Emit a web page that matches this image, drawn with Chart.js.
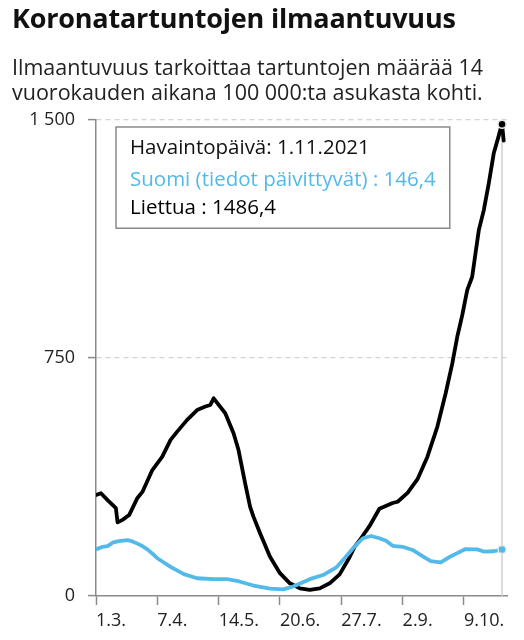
<!DOCTYPE html>
<html>
<head>
<meta charset="utf-8">
<script src="https://cdn.jsdelivr.net/npm/chart.js@4"></script>
<style>
  html, body { margin: 0; padding: 0; background: #fff; }
  #wrap { position: relative; width: 524px; height: 640px; overflow: hidden; }
  #chart { position: absolute; left: 0; top: 0; }
  .title {
    position: absolute; left: 12px; top: 0px;
    font-family: "Open Sans", sans-serif; font-weight: 700; font-size: 27px;
    line-height: 36px; color: #111; letter-spacing: -0.2px;
  }
  .sub {
    position: absolute; left: 12px; top: 54px; width: 512px;
    font-family: "Open Sans", sans-serif; font-size: 21.5px;
    line-height: 25px; color: #222;
  }
</style>
</head>
<body>
<div id="wrap">
  <canvas id="chart" width="524" height="640"></canvas>
  <div class="title">Koronatartuntojen ilmaantuvuus</div>
  <div class="sub">Ilmaantuvuus tarkoittaa tartuntojen määrää 14<br>vuorokauden aikana 100 000:ta asukasta kohti.</div>
</div>
<script>
// päivät laskettu 1.3.2021 alkaen
const xTicks = [0, 37, 74, 111, 148, 185, 222];
const xTickLabels = ["1.3.", "7.4.", "14.5.", "20.6.", "27.7.", "2.9.", "9.10."];
const yTicks = [0, 750, 1500];
const yTickLabels = ["0", "750", "1 500"];

const lastDate = "1.11.2021";
const lastDay = 245;

const finlandLabel = "Suomi (tiedot päivittyvät)";
const finlandDays = [0, 4, 7, 10, 13, 15, 19, 22, 25, 27, 31, 35, 37, 45, 53, 61, 71, 79, 85, 87,
  95, 105, 113, 119, 129, 137, 145, 149, 155, 161, 166, 171, 175, 179, 185, 191, 197, 202, 208,
  213, 218, 223, 230, 234, 240, 245];
const finlandValues = [147, 155, 157, 168, 172, 174, 176, 172, 165, 160, 147, 129, 119, 92, 69, 56, 53, 53, 48, 45,
  33, 23, 21, 30, 53, 66, 90, 113, 150, 182, 189, 182, 174, 158, 155, 145, 126, 110, 106,
  122, 135, 148, 147, 140, 141, 146.4];

const lithuaniaLabel = "Liettua";
const lithuaniaDays = [0, 3, 7, 10, 12, 13, 16, 20, 25, 28, 34, 40, 45, 49, 55, 61, 66, 69, 71, 78,
  83, 86, 90, 93, 95, 99, 105, 111, 117, 123, 129, 135, 141, 147, 153, 156, 159, 165, 171, 179,
  182, 188, 194, 200, 206, 211, 215, 218, 221, 224, 227, 229, 231, 234, 237, 240, 243, 244, 245, 246];
const lithuaniaValues = [318, 324, 302, 287, 277, 232, 240, 255, 309, 328, 397, 439, 492, 518, 555, 586, 597, 602, 623, 576,
  513, 460, 355, 281, 250, 198, 124, 72, 40, 24, 19, 24, 40, 68, 122, 155, 175, 220, 275, 293,
  297, 325, 368, 439, 534, 639, 733, 817, 885, 964, 1006, 1080, 1153, 1216, 1300, 1395, 1450, 1470, 1486.4, 1435];

const BLUE = "#52b9e9";
const FONT = "'Open Sans', sans-serif";

function toPoints(days, vals) {
  return days.map((d, i) => ({ x: d, y: vals[i] }));
}

function fmt(v) {
  return v.toFixed(1).replace(".", ",");
}

// näytetään piste vain havaintopäivän kohdalla
function pointAtLast(ctx) {
  const raw = ctx.raw;
  return raw && raw.x === lastDay ? 4 : 0;
}

Chart.Tooltip.positioners.fixedBox = function () {
  const a = this.chart.chartArea;
  return { x: a.left + 20, y: a.top + 7 };
};

const crosshair = {
  id: "crosshair",
  beforeDatasetsDraw(chart) {
    const { ctx, chartArea, scales } = chart;
    const x = scales.x.getPixelForValue(lastDay);
    ctx.save();
    ctx.strokeStyle = "#cfcfcf";
    ctx.lineWidth = 1.5;
    ctx.beginPath();
    ctx.moveTo(x, chartArea.top);
    ctx.lineTo(x, chartArea.bottom);
    ctx.stroke();
    ctx.restore();
  }
};

const lineStyle = {
  borderWidth: 3.8,
  tension: 0,
  borderJoinStyle: "round",
  borderCapStyle: "round",
  pointRadius: pointAtLast,
  pointHoverRadius: 4,
  pointBorderColor: "#fff",
  pointBorderWidth: 1.5,
  pointHoverBorderWidth: 1.5
};

const chart = new Chart(document.getElementById("chart").getContext("2d"), {
  type: "line",
  data: {
    datasets: [
      Object.assign({
        label: finlandLabel,
        data: toPoints(finlandDays, finlandValues),
        borderColor: BLUE,
        pointBackgroundColor: BLUE,
        pointHoverBackgroundColor: BLUE
      }, lineStyle),
      Object.assign({
        label: lithuaniaLabel,
        data: toPoints(lithuaniaDays, lithuaniaValues),
        borderColor: "#000",
        pointBackgroundColor: "#000",
        pointHoverBackgroundColor: "#000"
      }, lineStyle)
    ]
  },
  options: {
    responsive: false,
    animation: false,
    events: [],
    layout: { padding: { top: 120, right: 17, bottom: 0, left: 0 } },
    plugins: {
      legend: { display: false },
      tooltip: {
        position: "fixedBox",
        xAlign: "left",
        yAlign: "top",
        caretSize: 0,
        caretPadding: 0,
        cornerRadius: 0,
        backgroundColor: "#fff",
        borderColor: "#8a8a8a",
        borderWidth: 1.5,
        displayColors: false,
        padding: { left: 14, right: 14, top: 9, bottom: 8 },
        titleColor: "#111",
        titleFont: { family: FONT, size: 20.5, weight: "normal" },
        bodyFont: { family: FONT, size: 20.5 },
        titleMarginBottom: 7,
        bodySpacing: 3.5,
        callbacks: {
          title: () => "Havaintopäivä: " + lastDate,
          label: c => c.dataset.label + " : " + fmt(c.parsed.y),
          labelTextColor: c => c.dataset.borderColor
        }
      }
    },
    scales: {
      x: {
        type: "linear",
        min: 0,
        max: 248,
        afterBuildTicks: s => { s.ticks = xTicks.map(v => ({ value: v })); },
        afterFit: s => { s.height = 44; },
        ticks: {
          align: "start",
          padding: 5,
          color: "#222",
          font: { family: FONT, size: 18 },
          autoSkip: false,
          maxRotation: 0,
          callback: v => xTickLabels[xTicks.indexOf(v)]
        },
        grid: { drawOnChartArea: false, tickLength: 9, tickColor: "#8a8a8a", tickWidth: 1.5 },
        border: { color: "#8a8a8a", width: 1.5 }
      },
      y: {
        min: 0,
        max: 1500,
        afterBuildTicks: s => { s.ticks = yTicks.map(v => ({ value: v })); },
        afterFit: s => { s.width = 96; },
        ticks: {
          padding: 13,
          color: "#222",
          font: { family: FONT, size: 18 },
          callback: v => yTickLabels[yTicks.indexOf(v)]
        },
        grid: {
          color: c => (c.tick && c.tick.value === 0) ? "rgba(0,0,0,0)" : "#d4d4d4",
          lineWidth: 1.2,
          tickLength: 8,
          tickColor: "#8a8a8a",
          tickWidth: 1.5
        },
        border: { color: "#8a8a8a", width: 1.5, dash: [5, 4] }
      }
    }
  },
  plugins: [crosshair]
});

const active = [
  { datasetIndex: 0, index: finlandDays.indexOf(lastDay) },
  { datasetIndex: 1, index: lithuaniaDays.indexOf(lastDay) }
];
chart.setActiveElements(active);
chart.tooltip.setActiveElements(active, { x: 0, y: 0 });
chart.update();
</script>
</body>
</html>
